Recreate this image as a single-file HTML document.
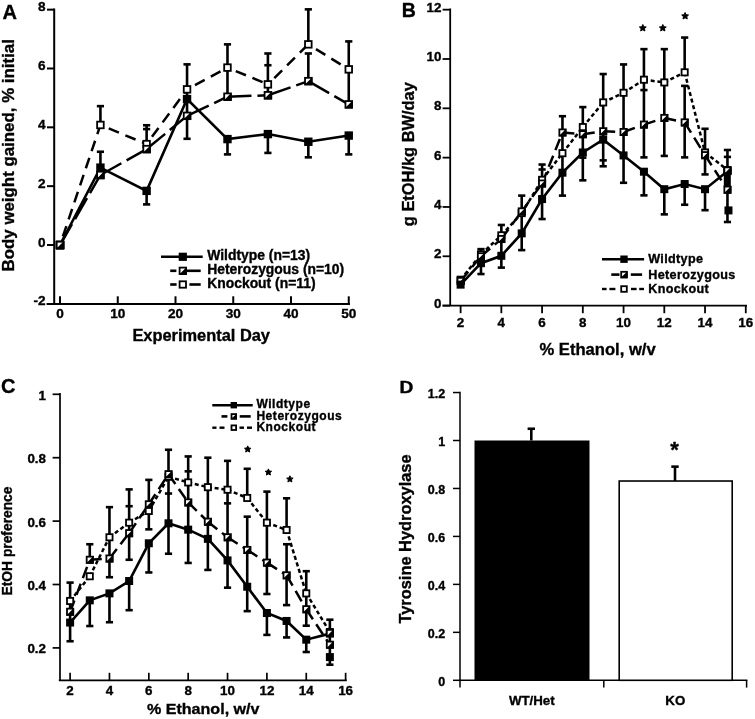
<!DOCTYPE html>
<html><head><meta charset="utf-8"><style>
html,body{margin:0;padding:0;background:#fff;}
svg{display:block;filter:grayscale(1);}
text{font-family:"Liberation Sans", sans-serif;font-weight:bold;fill:#000;stroke:#000;stroke-width:0.35px;}
</style></head><body>
<svg width="755" height="719" viewBox="0 0 755 719">
<rect width="755" height="719" fill="#fff"/>
<line x1="54.2" y1="8.5" x2="54.2" y2="303.9" stroke="#000" stroke-width="2.0" stroke-linecap="butt"/>
<line x1="46.6" y1="303.9" x2="350" y2="303.9" stroke="#000" stroke-width="2.0" stroke-linecap="butt"/>
<line x1="47" y1="9.64" x2="54.2" y2="9.64" stroke="#000" stroke-width="2.0" stroke-linecap="butt"/>
<text x="45.6" y="11.34" font-size="13.6" text-anchor="end" >8</text>
<line x1="47" y1="68.48" x2="54.2" y2="68.48" stroke="#000" stroke-width="2.0" stroke-linecap="butt"/>
<text x="45.6" y="70.18" font-size="13.6" text-anchor="end" >6</text>
<line x1="47" y1="127.32" x2="54.2" y2="127.32" stroke="#000" stroke-width="2.0" stroke-linecap="butt"/>
<text x="45.6" y="129.02" font-size="13.6" text-anchor="end" >4</text>
<line x1="47" y1="186.16" x2="54.2" y2="186.16" stroke="#000" stroke-width="2.0" stroke-linecap="butt"/>
<text x="45.6" y="187.86" font-size="13.6" text-anchor="end" >2</text>
<line x1="47" y1="245" x2="54.2" y2="245" stroke="#000" stroke-width="2.0" stroke-linecap="butt"/>
<text x="45.6" y="246.7" font-size="13.6" text-anchor="end" >0</text>
<text x="45.6" y="305.4" font-size="13.6" text-anchor="end" >-2</text>
<line x1="60" y1="303.9" x2="60" y2="296.3" stroke="#000" stroke-width="2.0" stroke-linecap="butt"/>
<text x="60" y="317.6" font-size="13.6" text-anchor="middle" >0</text>
<line x1="117.75" y1="303.9" x2="117.75" y2="296.3" stroke="#000" stroke-width="2.0" stroke-linecap="butt"/>
<text x="117.75" y="317.6" font-size="13.6" text-anchor="middle" >10</text>
<line x1="175.5" y1="303.9" x2="175.5" y2="296.3" stroke="#000" stroke-width="2.0" stroke-linecap="butt"/>
<text x="175.5" y="317.6" font-size="13.6" text-anchor="middle" >20</text>
<line x1="233.25" y1="303.9" x2="233.25" y2="296.3" stroke="#000" stroke-width="2.0" stroke-linecap="butt"/>
<text x="233.25" y="317.6" font-size="13.6" text-anchor="middle" >30</text>
<line x1="291" y1="303.9" x2="291" y2="296.3" stroke="#000" stroke-width="2.0" stroke-linecap="butt"/>
<text x="291" y="317.6" font-size="13.6" text-anchor="middle" >40</text>
<line x1="348.75" y1="303.9" x2="348.75" y2="296.3" stroke="#000" stroke-width="2.0" stroke-linecap="butt"/>
<text x="348.75" y="317.6" font-size="13.6" text-anchor="middle" >50</text>
<text x="201.2" y="340.6" font-size="16.4" text-anchor="middle" >Experimental Day</text>
<text transform="translate(14.2,155.3) rotate(-90)" x="0" y="0" font-size="16.88" text-anchor="middle">Body weight gained, % initial</text>
<text x="2.6" y="19.3" font-size="20" text-anchor="start" >A</text>
<line x1="100.43" y1="124.97" x2="100.43" y2="106.14" stroke="#000" stroke-width="2.6" stroke-linecap="butt"/>
<line x1="100.43" y1="174.98" x2="100.43" y2="151.74" stroke="#000" stroke-width="2.6" stroke-linecap="butt"/>
<line x1="96.83" y1="106.14" x2="104.03" y2="106.14" stroke="#000" stroke-width="2.6" stroke-linecap="butt"/>
<line x1="96.83" y1="151.74" x2="104.03" y2="151.74" stroke="#000" stroke-width="2.6" stroke-linecap="butt"/>
<line x1="146.62" y1="144.09" x2="146.62" y2="125.26" stroke="#000" stroke-width="2.6" stroke-linecap="butt"/>
<line x1="146.62" y1="204.4" x2="146.62" y2="190.87" stroke="#000" stroke-width="2.6" stroke-linecap="butt"/>
<line x1="143.03" y1="125.26" x2="150.22" y2="125.26" stroke="#000" stroke-width="2.6" stroke-linecap="butt"/>
<line x1="143.03" y1="129.09" x2="150.22" y2="129.09" stroke="#000" stroke-width="2.6" stroke-linecap="butt"/>
<line x1="143.03" y1="204.4" x2="150.22" y2="204.4" stroke="#000" stroke-width="2.6" stroke-linecap="butt"/>
<line x1="187.05" y1="138.79" x2="187.05" y2="64.36" stroke="#000" stroke-width="2.6" stroke-linecap="butt"/>
<line x1="183.45" y1="64.36" x2="190.65" y2="64.36" stroke="#000" stroke-width="2.6" stroke-linecap="butt"/>
<line x1="183.45" y1="138.79" x2="190.65" y2="138.79" stroke="#000" stroke-width="2.6" stroke-linecap="butt"/>
<line x1="227.48" y1="96.72" x2="227.48" y2="44.36" stroke="#000" stroke-width="2.6" stroke-linecap="butt"/>
<line x1="227.48" y1="154.39" x2="227.48" y2="139.09" stroke="#000" stroke-width="2.6" stroke-linecap="butt"/>
<line x1="223.88" y1="44.36" x2="231.08" y2="44.36" stroke="#000" stroke-width="2.6" stroke-linecap="butt"/>
<line x1="223.88" y1="154.39" x2="231.08" y2="154.39" stroke="#000" stroke-width="2.6" stroke-linecap="butt"/>
<line x1="267.9" y1="95.25" x2="267.9" y2="53.48" stroke="#000" stroke-width="2.6" stroke-linecap="butt"/>
<line x1="267.9" y1="152.92" x2="267.9" y2="134.09" stroke="#000" stroke-width="2.6" stroke-linecap="butt"/>
<line x1="264.3" y1="53.48" x2="271.5" y2="53.48" stroke="#000" stroke-width="2.6" stroke-linecap="butt"/>
<line x1="264.3" y1="65.24" x2="271.5" y2="65.24" stroke="#000" stroke-width="2.6" stroke-linecap="butt"/>
<line x1="264.3" y1="152.92" x2="271.5" y2="152.92" stroke="#000" stroke-width="2.6" stroke-linecap="butt"/>
<line x1="308.33" y1="44.36" x2="308.33" y2="9.35" stroke="#000" stroke-width="2.6" stroke-linecap="butt"/>
<line x1="308.33" y1="81.13" x2="308.33" y2="53.48" stroke="#000" stroke-width="2.6" stroke-linecap="butt"/>
<line x1="308.33" y1="157.33" x2="308.33" y2="141.74" stroke="#000" stroke-width="2.6" stroke-linecap="butt"/>
<line x1="304.73" y1="9.35" x2="311.93" y2="9.35" stroke="#000" stroke-width="2.6" stroke-linecap="butt"/>
<line x1="304.73" y1="53.48" x2="311.93" y2="53.48" stroke="#000" stroke-width="2.6" stroke-linecap="butt"/>
<line x1="304.73" y1="157.33" x2="311.93" y2="157.33" stroke="#000" stroke-width="2.6" stroke-linecap="butt"/>
<line x1="348.75" y1="104.37" x2="348.75" y2="41.41" stroke="#000" stroke-width="2.6" stroke-linecap="butt"/>
<line x1="348.75" y1="154.39" x2="348.75" y2="135.56" stroke="#000" stroke-width="2.6" stroke-linecap="butt"/>
<line x1="345.15" y1="41.41" x2="352.35" y2="41.41" stroke="#000" stroke-width="2.6" stroke-linecap="butt"/>
<line x1="345.15" y1="154.39" x2="352.35" y2="154.39" stroke="#000" stroke-width="2.6" stroke-linecap="butt"/>
<line x1="60" y1="245" x2="100.43" y2="124.97" stroke="#000" stroke-width="2.5" stroke-dasharray="11 7" stroke-dashoffset="9"/>
<line x1="100.43" y1="124.97" x2="146.62" y2="144.09" stroke="#000" stroke-width="2.5" stroke-dasharray="11 7" stroke-dashoffset="9"/>
<line x1="146.62" y1="144.09" x2="187.05" y2="89.37" stroke="#000" stroke-width="2.5" stroke-dasharray="11 7" stroke-dashoffset="9"/>
<line x1="187.05" y1="89.37" x2="227.48" y2="67.6" stroke="#000" stroke-width="2.5" stroke-dasharray="11 7" stroke-dashoffset="9"/>
<line x1="227.48" y1="67.6" x2="267.9" y2="84.37" stroke="#000" stroke-width="2.5" stroke-dasharray="11 7" stroke-dashoffset="9"/>
<line x1="267.9" y1="84.37" x2="308.33" y2="44.36" stroke="#000" stroke-width="2.5" stroke-dasharray="11 7" stroke-dashoffset="9"/>
<line x1="308.33" y1="44.36" x2="348.75" y2="69.36" stroke="#000" stroke-width="2.5" stroke-dasharray="11 7" stroke-dashoffset="9"/>
<line x1="60" y1="245" x2="100.43" y2="174.98" stroke="#000" stroke-width="2.5" stroke-dasharray="24 6" stroke-dashoffset="0"/>
<line x1="100.43" y1="174.98" x2="146.62" y2="149.09" stroke="#000" stroke-width="2.5" stroke-dasharray="24 6" stroke-dashoffset="0"/>
<line x1="146.62" y1="149.09" x2="187.05" y2="115.85" stroke="#000" stroke-width="2.5" stroke-dasharray="24 6" stroke-dashoffset="0"/>
<line x1="187.05" y1="115.85" x2="227.48" y2="96.72" stroke="#000" stroke-width="2.5" stroke-dasharray="24 6" stroke-dashoffset="0"/>
<line x1="227.48" y1="96.72" x2="267.9" y2="95.25" stroke="#000" stroke-width="2.5" stroke-dasharray="24 6" stroke-dashoffset="0"/>
<line x1="267.9" y1="95.25" x2="308.33" y2="81.13" stroke="#000" stroke-width="2.5" stroke-dasharray="24 6" stroke-dashoffset="0"/>
<line x1="308.33" y1="81.13" x2="348.75" y2="104.37" stroke="#000" stroke-width="2.5" stroke-dasharray="24 6" stroke-dashoffset="0"/>
<polyline points="60,245 100.43,167.63 146.62,190.87 187.05,99.08 227.48,139.09 267.9,134.09 308.33,141.74 348.75,135.56" fill="none" stroke="#000" stroke-width="2.6" stroke-linejoin="miter"/>
<rect x="56.7" y="241.7" width="6.6" height="6.6" fill="#fff" stroke="#000" stroke-width="1.8"/>
<rect x="97.13" y="121.67" width="6.6" height="6.6" fill="#fff" stroke="#000" stroke-width="1.8"/>
<rect x="143.32" y="140.79" width="6.6" height="6.6" fill="#fff" stroke="#000" stroke-width="1.8"/>
<rect x="183.75" y="86.07" width="6.6" height="6.6" fill="#fff" stroke="#000" stroke-width="1.8"/>
<rect x="224.18" y="64.3" width="6.6" height="6.6" fill="#fff" stroke="#000" stroke-width="1.8"/>
<rect x="264.6" y="81.07" width="6.6" height="6.6" fill="#fff" stroke="#000" stroke-width="1.8"/>
<rect x="305.03" y="41.06" width="6.6" height="6.6" fill="#fff" stroke="#000" stroke-width="1.8"/>
<rect x="345.45" y="66.06" width="6.6" height="6.6" fill="#fff" stroke="#000" stroke-width="1.8"/>
<rect x="56.7" y="241.7" width="6.6" height="6.6" fill="#fff" stroke="#000" stroke-width="1.8"/>
<path d="M55.8,249.2 L64.2,240.8 L64.2,249.2 Z" fill="#000"/>
<rect x="97.13" y="171.68" width="6.6" height="6.6" fill="#fff" stroke="#000" stroke-width="1.8"/>
<path d="M96.23,179.18 L104.63,170.78 L104.63,179.18 Z" fill="#000"/>
<rect x="143.32" y="145.79" width="6.6" height="6.6" fill="#fff" stroke="#000" stroke-width="1.8"/>
<path d="M142.43,153.29 L150.82,144.89 L150.82,153.29 Z" fill="#000"/>
<rect x="183.75" y="112.55" width="6.6" height="6.6" fill="#fff" stroke="#000" stroke-width="1.8"/>
<path d="M182.85,120.05 L191.25,111.65 L191.25,120.05 Z" fill="#000"/>
<rect x="224.18" y="93.42" width="6.6" height="6.6" fill="#fff" stroke="#000" stroke-width="1.8"/>
<path d="M223.28,100.92 L231.68,92.52 L231.68,100.92 Z" fill="#000"/>
<rect x="264.6" y="91.95" width="6.6" height="6.6" fill="#fff" stroke="#000" stroke-width="1.8"/>
<path d="M263.7,99.45 L272.1,91.05 L272.1,99.45 Z" fill="#000"/>
<rect x="305.03" y="77.83" width="6.6" height="6.6" fill="#fff" stroke="#000" stroke-width="1.8"/>
<path d="M304.13,85.33 L312.53,76.93 L312.53,85.33 Z" fill="#000"/>
<rect x="345.45" y="101.07" width="6.6" height="6.6" fill="#fff" stroke="#000" stroke-width="1.8"/>
<path d="M344.55,108.57 L352.95,100.17 L352.95,108.57 Z" fill="#000"/>
<rect x="55.8" y="240.8" width="8.4" height="8.4" fill="#000"/>
<rect x="96.23" y="163.43" width="8.4" height="8.4" fill="#000"/>
<rect x="142.43" y="186.67" width="8.4" height="8.4" fill="#000"/>
<rect x="182.85" y="94.88" width="8.4" height="8.4" fill="#000"/>
<rect x="223.28" y="134.89" width="8.4" height="8.4" fill="#000"/>
<rect x="263.7" y="129.89" width="8.4" height="8.4" fill="#000"/>
<rect x="304.13" y="137.54" width="8.4" height="8.4" fill="#000"/>
<rect x="344.55" y="131.36" width="8.4" height="8.4" fill="#000"/>
<rect x="56.7" y="241.7" width="6.6" height="6.6" fill="#fff" stroke="#000" stroke-width="1.8"/>
<path d="M55.8,249.2 L64.2,240.8 L64.2,249.2 Z" fill="#000"/>
<line x1="161" y1="256.8" x2="202.7" y2="256.8" stroke="#000" stroke-width="2.6" stroke-linecap="butt"/>
<rect x="178.7" y="252.7" width="8.2" height="8.2" fill="#000"/>
<line x1="170.2" y1="270.8" x2="176.4" y2="270.8" stroke="#000" stroke-width="2.6" stroke-linecap="butt"/>
<line x1="186.8" y1="270.8" x2="200.7" y2="270.8" stroke="#000" stroke-width="2.6" stroke-linecap="butt"/>
<rect x="179.6" y="267.6" width="6.4" height="6.4" fill="#fff" stroke="#000" stroke-width="1.8"/>
<path d="M178.7,274.9 L186.9,266.7 L186.9,274.9 Z" fill="#000"/>
<line x1="170.2" y1="284.5" x2="176.6" y2="284.5" stroke="#000" stroke-width="2.6" stroke-linecap="butt"/>
<line x1="189.4" y1="284.5" x2="200.7" y2="284.5" stroke="#000" stroke-width="2.6" stroke-linecap="butt"/>
<rect x="179.6" y="281.3" width="6.4" height="6.4" fill="#fff" stroke="#000" stroke-width="1.8"/>
<text x="207.2" y="260.2" font-size="13.9" text-anchor="start" >Wildtype (n=13)</text>
<text x="207.2" y="274.3" font-size="13.9" text-anchor="start" >Heterozygous (n=10)</text>
<text x="207.2" y="288.2" font-size="13.9" text-anchor="start" >Knockout (n=11)</text>
<line x1="450.2" y1="8.5" x2="450.2" y2="305.6" stroke="#000" stroke-width="1.8" stroke-linecap="butt"/>
<line x1="442.6" y1="305.6" x2="747" y2="305.6" stroke="#000" stroke-width="1.8" stroke-linecap="butt"/>
<line x1="442.6" y1="9.68" x2="450.2" y2="9.68" stroke="#000" stroke-width="1.8" stroke-linecap="butt"/>
<text x="441.5" y="11.68" font-size="13.4" text-anchor="end" >12</text>
<line x1="442.6" y1="59" x2="450.2" y2="59" stroke="#000" stroke-width="1.8" stroke-linecap="butt"/>
<text x="441.5" y="61" font-size="13.4" text-anchor="end" >10</text>
<line x1="442.6" y1="108.32" x2="450.2" y2="108.32" stroke="#000" stroke-width="1.8" stroke-linecap="butt"/>
<text x="441.5" y="110.32" font-size="13.4" text-anchor="end" >8</text>
<line x1="442.6" y1="157.64" x2="450.2" y2="157.64" stroke="#000" stroke-width="1.8" stroke-linecap="butt"/>
<text x="441.5" y="159.64" font-size="13.4" text-anchor="end" >6</text>
<line x1="442.6" y1="206.96" x2="450.2" y2="206.96" stroke="#000" stroke-width="1.8" stroke-linecap="butt"/>
<text x="441.5" y="208.96" font-size="13.4" text-anchor="end" >4</text>
<line x1="442.6" y1="256.28" x2="450.2" y2="256.28" stroke="#000" stroke-width="1.8" stroke-linecap="butt"/>
<text x="441.5" y="258.28" font-size="13.4" text-anchor="end" >2</text>
<line x1="442.6" y1="305.6" x2="450.2" y2="305.6" stroke="#000" stroke-width="1.8" stroke-linecap="butt"/>
<text x="441.5" y="307.6" font-size="13.4" text-anchor="end" >0</text>
<line x1="460.6" y1="305.6" x2="460.6" y2="313.2" stroke="#000" stroke-width="1.8" stroke-linecap="butt"/>
<text x="460.6" y="327" font-size="13.4" text-anchor="middle" >2</text>
<line x1="501.34" y1="305.6" x2="501.34" y2="313.2" stroke="#000" stroke-width="1.8" stroke-linecap="butt"/>
<text x="501.34" y="327" font-size="13.4" text-anchor="middle" >4</text>
<line x1="542.08" y1="305.6" x2="542.08" y2="313.2" stroke="#000" stroke-width="1.8" stroke-linecap="butt"/>
<text x="542.08" y="327" font-size="13.4" text-anchor="middle" >6</text>
<line x1="582.82" y1="305.6" x2="582.82" y2="313.2" stroke="#000" stroke-width="1.8" stroke-linecap="butt"/>
<text x="582.82" y="327" font-size="13.4" text-anchor="middle" >8</text>
<line x1="623.56" y1="305.6" x2="623.56" y2="313.2" stroke="#000" stroke-width="1.8" stroke-linecap="butt"/>
<text x="623.56" y="327" font-size="13.4" text-anchor="middle" >10</text>
<line x1="664.3" y1="305.6" x2="664.3" y2="313.2" stroke="#000" stroke-width="1.8" stroke-linecap="butt"/>
<text x="664.3" y="327" font-size="13.4" text-anchor="middle" >12</text>
<line x1="705.04" y1="305.6" x2="705.04" y2="313.2" stroke="#000" stroke-width="1.8" stroke-linecap="butt"/>
<text x="705.04" y="327" font-size="13.4" text-anchor="middle" >14</text>
<line x1="745.78" y1="305.6" x2="745.78" y2="313.2" stroke="#000" stroke-width="1.8" stroke-linecap="butt"/>
<text x="745.78" y="327" font-size="13.4" text-anchor="middle" >16</text>
<text x="597.6" y="354.6" font-size="16.6" text-anchor="middle" >% Ethanol, w/v</text>
<text transform="translate(414.4,154.2) rotate(-90)" x="0" y="0" font-size="16.4" text-anchor="middle">g EtOH/kg BW/day</text>
<text x="401.8" y="17" font-size="19.5" text-anchor="start" >B</text>
<line x1="480.97" y1="274.04" x2="480.97" y2="249.13" stroke="#000" stroke-width="2.6" stroke-linecap="butt"/>
<line x1="477.37" y1="249.13" x2="484.57" y2="249.13" stroke="#000" stroke-width="2.6" stroke-linecap="butt"/>
<line x1="477.37" y1="274.04" x2="484.57" y2="274.04" stroke="#000" stroke-width="2.6" stroke-linecap="butt"/>
<line x1="501.34" y1="267.62" x2="501.34" y2="224.96" stroke="#000" stroke-width="2.6" stroke-linecap="butt"/>
<line x1="497.74" y1="224.96" x2="504.94" y2="224.96" stroke="#000" stroke-width="2.6" stroke-linecap="butt"/>
<line x1="497.74" y1="267.62" x2="504.94" y2="267.62" stroke="#000" stroke-width="2.6" stroke-linecap="butt"/>
<line x1="521.71" y1="250.12" x2="521.71" y2="195.62" stroke="#000" stroke-width="2.6" stroke-linecap="butt"/>
<line x1="518.11" y1="195.62" x2="525.31" y2="195.62" stroke="#000" stroke-width="2.6" stroke-linecap="butt"/>
<line x1="518.11" y1="250.12" x2="525.31" y2="250.12" stroke="#000" stroke-width="2.6" stroke-linecap="butt"/>
<line x1="542.08" y1="219.04" x2="542.08" y2="164.54" stroke="#000" stroke-width="2.6" stroke-linecap="butt"/>
<line x1="538.48" y1="164.54" x2="545.68" y2="164.54" stroke="#000" stroke-width="2.6" stroke-linecap="butt"/>
<line x1="538.48" y1="169.48" x2="545.68" y2="169.48" stroke="#000" stroke-width="2.6" stroke-linecap="butt"/>
<line x1="538.48" y1="219.04" x2="545.68" y2="219.04" stroke="#000" stroke-width="2.6" stroke-linecap="butt"/>
<line x1="562.45" y1="195.62" x2="562.45" y2="116.21" stroke="#000" stroke-width="2.6" stroke-linecap="butt"/>
<line x1="558.85" y1="116.21" x2="566.05" y2="116.21" stroke="#000" stroke-width="2.6" stroke-linecap="butt"/>
<line x1="558.85" y1="195.62" x2="566.05" y2="195.62" stroke="#000" stroke-width="2.6" stroke-linecap="butt"/>
<line x1="582.82" y1="180.33" x2="582.82" y2="107.09" stroke="#000" stroke-width="2.6" stroke-linecap="butt"/>
<line x1="579.22" y1="107.09" x2="586.42" y2="107.09" stroke="#000" stroke-width="2.6" stroke-linecap="butt"/>
<line x1="579.22" y1="157.64" x2="586.42" y2="157.64" stroke="#000" stroke-width="2.6" stroke-linecap="butt"/>
<line x1="579.22" y1="180.33" x2="586.42" y2="180.33" stroke="#000" stroke-width="2.6" stroke-linecap="butt"/>
<line x1="603.19" y1="166.27" x2="603.19" y2="74.04" stroke="#000" stroke-width="2.6" stroke-linecap="butt"/>
<line x1="599.59" y1="74.04" x2="606.79" y2="74.04" stroke="#000" stroke-width="2.6" stroke-linecap="butt"/>
<line x1="599.59" y1="160.35" x2="606.79" y2="160.35" stroke="#000" stroke-width="2.6" stroke-linecap="butt"/>
<line x1="599.59" y1="166.27" x2="606.79" y2="166.27" stroke="#000" stroke-width="2.6" stroke-linecap="butt"/>
<line x1="623.56" y1="182.79" x2="623.56" y2="64.43" stroke="#000" stroke-width="2.6" stroke-linecap="butt"/>
<line x1="619.96" y1="64.43" x2="627.16" y2="64.43" stroke="#000" stroke-width="2.6" stroke-linecap="butt"/>
<line x1="619.96" y1="182.79" x2="627.16" y2="182.79" stroke="#000" stroke-width="2.6" stroke-linecap="butt"/>
<line x1="643.93" y1="157.39" x2="643.93" y2="49.14" stroke="#000" stroke-width="2.6" stroke-linecap="butt"/>
<line x1="643.93" y1="195.37" x2="643.93" y2="171.94" stroke="#000" stroke-width="2.6" stroke-linecap="butt"/>
<line x1="640.33" y1="49.14" x2="647.53" y2="49.14" stroke="#000" stroke-width="2.6" stroke-linecap="butt"/>
<line x1="640.33" y1="90.07" x2="647.53" y2="90.07" stroke="#000" stroke-width="2.6" stroke-linecap="butt"/>
<line x1="640.33" y1="157.39" x2="647.53" y2="157.39" stroke="#000" stroke-width="2.6" stroke-linecap="butt"/>
<line x1="640.33" y1="195.37" x2="647.53" y2="195.37" stroke="#000" stroke-width="2.6" stroke-linecap="butt"/>
<line x1="664.3" y1="155.91" x2="664.3" y2="49.14" stroke="#000" stroke-width="2.6" stroke-linecap="butt"/>
<line x1="664.3" y1="214.36" x2="664.3" y2="189.7" stroke="#000" stroke-width="2.6" stroke-linecap="butt"/>
<line x1="660.7" y1="49.14" x2="667.9" y2="49.14" stroke="#000" stroke-width="2.6" stroke-linecap="butt"/>
<line x1="660.7" y1="155.91" x2="667.9" y2="155.91" stroke="#000" stroke-width="2.6" stroke-linecap="butt"/>
<line x1="660.7" y1="214.36" x2="667.9" y2="214.36" stroke="#000" stroke-width="2.6" stroke-linecap="butt"/>
<line x1="684.67" y1="72.07" x2="684.67" y2="37.55" stroke="#000" stroke-width="2.6" stroke-linecap="butt"/>
<line x1="684.67" y1="157.39" x2="684.67" y2="85.88" stroke="#000" stroke-width="2.6" stroke-linecap="butt"/>
<line x1="684.67" y1="204.74" x2="684.67" y2="183.29" stroke="#000" stroke-width="2.6" stroke-linecap="butt"/>
<line x1="681.07" y1="37.55" x2="688.27" y2="37.55" stroke="#000" stroke-width="2.6" stroke-linecap="butt"/>
<line x1="681.07" y1="85.88" x2="688.27" y2="85.88" stroke="#000" stroke-width="2.6" stroke-linecap="butt"/>
<line x1="681.07" y1="157.39" x2="688.27" y2="157.39" stroke="#000" stroke-width="2.6" stroke-linecap="butt"/>
<line x1="681.07" y1="204.74" x2="688.27" y2="204.74" stroke="#000" stroke-width="2.6" stroke-linecap="butt"/>
<line x1="705.04" y1="174.41" x2="705.04" y2="128.79" stroke="#000" stroke-width="2.6" stroke-linecap="butt"/>
<line x1="705.04" y1="210.17" x2="705.04" y2="189.45" stroke="#000" stroke-width="2.6" stroke-linecap="butt"/>
<line x1="701.44" y1="128.79" x2="708.64" y2="128.79" stroke="#000" stroke-width="2.6" stroke-linecap="butt"/>
<line x1="701.44" y1="174.41" x2="708.64" y2="174.41" stroke="#000" stroke-width="2.6" stroke-linecap="butt"/>
<line x1="701.44" y1="210.17" x2="708.64" y2="210.17" stroke="#000" stroke-width="2.6" stroke-linecap="butt"/>
<line x1="727.45" y1="222" x2="727.45" y2="150" stroke="#000" stroke-width="2.6" stroke-linecap="butt"/>
<line x1="723.85" y1="150" x2="731.05" y2="150" stroke="#000" stroke-width="2.6" stroke-linecap="butt"/>
<line x1="723.85" y1="156.9" x2="731.05" y2="156.9" stroke="#000" stroke-width="2.6" stroke-linecap="butt"/>
<line x1="723.85" y1="222" x2="731.05" y2="222" stroke="#000" stroke-width="2.6" stroke-linecap="butt"/>
<line x1="460.6" y1="279.71" x2="480.97" y2="254.31" stroke="#000" stroke-width="2.5" stroke-dasharray="4 2.8" stroke-dashoffset="0"/>
<line x1="480.97" y1="254.31" x2="501.34" y2="235.32" stroke="#000" stroke-width="2.5" stroke-dasharray="4 2.8" stroke-dashoffset="0"/>
<line x1="501.34" y1="235.32" x2="521.71" y2="213.13" stroke="#000" stroke-width="2.5" stroke-dasharray="4 2.8" stroke-dashoffset="0"/>
<line x1="521.71" y1="213.13" x2="542.08" y2="179.83" stroke="#000" stroke-width="2.5" stroke-dasharray="4 2.8" stroke-dashoffset="0"/>
<line x1="542.08" y1="179.83" x2="562.45" y2="153.2" stroke="#000" stroke-width="2.5" stroke-dasharray="4 2.8" stroke-dashoffset="0"/>
<line x1="562.45" y1="153.2" x2="582.82" y2="127.06" stroke="#000" stroke-width="2.5" stroke-dasharray="4 2.8" stroke-dashoffset="0"/>
<line x1="582.82" y1="127.06" x2="603.19" y2="102.4" stroke="#000" stroke-width="2.5" stroke-dasharray="4 2.8" stroke-dashoffset="0"/>
<line x1="603.19" y1="102.4" x2="623.56" y2="92.78" stroke="#000" stroke-width="2.5" stroke-dasharray="4 2.8" stroke-dashoffset="0"/>
<line x1="623.56" y1="92.78" x2="643.93" y2="79.71" stroke="#000" stroke-width="2.5" stroke-dasharray="4 2.8" stroke-dashoffset="0"/>
<line x1="643.93" y1="79.71" x2="664.3" y2="82.43" stroke="#000" stroke-width="2.5" stroke-dasharray="4 2.8" stroke-dashoffset="0"/>
<line x1="664.3" y1="82.43" x2="684.67" y2="72.32" stroke="#000" stroke-width="2.5" stroke-dasharray="4 2.8" stroke-dashoffset="0"/>
<line x1="684.67" y1="72.32" x2="705.04" y2="152.46" stroke="#000" stroke-width="2.5" stroke-dasharray="4 2.8" stroke-dashoffset="0"/>
<line x1="705.04" y1="152.46" x2="727.45" y2="169.97" stroke="#000" stroke-width="2.5" stroke-dasharray="4 2.8" stroke-dashoffset="0"/>
<line x1="460.6" y1="280.94" x2="480.97" y2="256.28" stroke="#000" stroke-width="2.5" stroke-dasharray="12 6" stroke-dashoffset="0"/>
<line x1="480.97" y1="256.28" x2="501.34" y2="239.02" stroke="#000" stroke-width="2.5" stroke-dasharray="12 6" stroke-dashoffset="0"/>
<line x1="501.34" y1="239.02" x2="521.71" y2="211.4" stroke="#000" stroke-width="2.5" stroke-dasharray="12 6" stroke-dashoffset="0"/>
<line x1="521.71" y1="211.4" x2="542.08" y2="183.53" stroke="#000" stroke-width="2.5" stroke-dasharray="12 6" stroke-dashoffset="0"/>
<line x1="542.08" y1="183.53" x2="562.45" y2="132.49" stroke="#000" stroke-width="2.5" stroke-dasharray="12 6" stroke-dashoffset="0"/>
<line x1="562.45" y1="132.49" x2="582.82" y2="134.21" stroke="#000" stroke-width="2.5" stroke-dasharray="12 6" stroke-dashoffset="0"/>
<line x1="582.82" y1="134.21" x2="603.19" y2="131.25" stroke="#000" stroke-width="2.5" stroke-dasharray="12 6" stroke-dashoffset="0"/>
<line x1="603.19" y1="131.25" x2="623.56" y2="131.99" stroke="#000" stroke-width="2.5" stroke-dasharray="12 6" stroke-dashoffset="0"/>
<line x1="623.56" y1="131.99" x2="643.93" y2="124.6" stroke="#000" stroke-width="2.5" stroke-dasharray="12 6" stroke-dashoffset="0"/>
<line x1="643.93" y1="124.6" x2="664.3" y2="117.94" stroke="#000" stroke-width="2.5" stroke-dasharray="12 6" stroke-dashoffset="0"/>
<line x1="664.3" y1="117.94" x2="684.67" y2="122.38" stroke="#000" stroke-width="2.5" stroke-dasharray="12 6" stroke-dashoffset="0"/>
<line x1="684.67" y1="122.38" x2="705.04" y2="155.17" stroke="#000" stroke-width="2.5" stroke-dasharray="12 6" stroke-dashoffset="0"/>
<line x1="705.04" y1="155.17" x2="727.45" y2="189.7" stroke="#000" stroke-width="2.5" stroke-dasharray="12 6" stroke-dashoffset="0"/>
<polyline points="460.6,284.64 480.97,263.18 501.34,255.79 521.71,233.35 542.08,199.07 562.45,172.68 582.82,152.46 603.19,139.64 623.56,155.42 643.93,171.7 664.3,189.2 684.67,184.03 705.04,189.2 727.45,171.2" fill="none" stroke="#000" stroke-width="2.6" stroke-linejoin="miter"/>
<rect x="457.5" y="276.61" width="6.2" height="6.2" fill="#fff" stroke="#000" stroke-width="1.8"/>
<rect x="477.87" y="251.21" width="6.2" height="6.2" fill="#fff" stroke="#000" stroke-width="1.8"/>
<rect x="498.24" y="232.22" width="6.2" height="6.2" fill="#fff" stroke="#000" stroke-width="1.8"/>
<rect x="518.61" y="210.03" width="6.2" height="6.2" fill="#fff" stroke="#000" stroke-width="1.8"/>
<rect x="538.98" y="176.73" width="6.2" height="6.2" fill="#fff" stroke="#000" stroke-width="1.8"/>
<rect x="559.35" y="150.1" width="6.2" height="6.2" fill="#fff" stroke="#000" stroke-width="1.8"/>
<rect x="579.72" y="123.96" width="6.2" height="6.2" fill="#fff" stroke="#000" stroke-width="1.8"/>
<rect x="600.09" y="99.3" width="6.2" height="6.2" fill="#fff" stroke="#000" stroke-width="1.8"/>
<rect x="620.46" y="89.68" width="6.2" height="6.2" fill="#fff" stroke="#000" stroke-width="1.8"/>
<rect x="640.83" y="76.61" width="6.2" height="6.2" fill="#fff" stroke="#000" stroke-width="1.8"/>
<rect x="661.2" y="79.33" width="6.2" height="6.2" fill="#fff" stroke="#000" stroke-width="1.8"/>
<rect x="681.57" y="69.22" width="6.2" height="6.2" fill="#fff" stroke="#000" stroke-width="1.8"/>
<rect x="701.94" y="149.36" width="6.2" height="6.2" fill="#fff" stroke="#000" stroke-width="1.8"/>
<rect x="724.35" y="166.87" width="6.2" height="6.2" fill="#fff" stroke="#000" stroke-width="1.8"/>
<rect x="457.5" y="277.84" width="6.2" height="6.2" fill="#fff" stroke="#000" stroke-width="1.8"/>
<path d="M456.6,284.94 L464.6,276.94 L464.6,284.94 Z" fill="#000"/>
<rect x="477.87" y="253.18" width="6.2" height="6.2" fill="#fff" stroke="#000" stroke-width="1.8"/>
<path d="M476.97,260.28 L484.97,252.28 L484.97,260.28 Z" fill="#000"/>
<rect x="498.24" y="235.92" width="6.2" height="6.2" fill="#fff" stroke="#000" stroke-width="1.8"/>
<path d="M497.34,243.02 L505.34,235.02 L505.34,243.02 Z" fill="#000"/>
<rect x="518.61" y="208.3" width="6.2" height="6.2" fill="#fff" stroke="#000" stroke-width="1.8"/>
<path d="M517.71,215.4 L525.71,207.4 L525.71,215.4 Z" fill="#000"/>
<rect x="538.98" y="180.43" width="6.2" height="6.2" fill="#fff" stroke="#000" stroke-width="1.8"/>
<path d="M538.08,187.53 L546.08,179.53 L546.08,187.53 Z" fill="#000"/>
<rect x="559.35" y="129.39" width="6.2" height="6.2" fill="#fff" stroke="#000" stroke-width="1.8"/>
<path d="M558.45,136.49 L566.45,128.49 L566.45,136.49 Z" fill="#000"/>
<rect x="579.72" y="131.11" width="6.2" height="6.2" fill="#fff" stroke="#000" stroke-width="1.8"/>
<path d="M578.82,138.21 L586.82,130.21 L586.82,138.21 Z" fill="#000"/>
<rect x="600.09" y="128.15" width="6.2" height="6.2" fill="#fff" stroke="#000" stroke-width="1.8"/>
<path d="M599.19,135.25 L607.19,127.25 L607.19,135.25 Z" fill="#000"/>
<rect x="620.46" y="128.89" width="6.2" height="6.2" fill="#fff" stroke="#000" stroke-width="1.8"/>
<path d="M619.56,135.99 L627.56,127.99 L627.56,135.99 Z" fill="#000"/>
<rect x="640.83" y="121.5" width="6.2" height="6.2" fill="#fff" stroke="#000" stroke-width="1.8"/>
<path d="M639.93,128.6 L647.93,120.6 L647.93,128.6 Z" fill="#000"/>
<rect x="661.2" y="114.84" width="6.2" height="6.2" fill="#fff" stroke="#000" stroke-width="1.8"/>
<path d="M660.3,121.94 L668.3,113.94 L668.3,121.94 Z" fill="#000"/>
<rect x="681.57" y="119.28" width="6.2" height="6.2" fill="#fff" stroke="#000" stroke-width="1.8"/>
<path d="M680.67,126.38 L688.67,118.38 L688.67,126.38 Z" fill="#000"/>
<rect x="701.94" y="152.07" width="6.2" height="6.2" fill="#fff" stroke="#000" stroke-width="1.8"/>
<path d="M701.04,159.17 L709.04,151.17 L709.04,159.17 Z" fill="#000"/>
<rect x="724.35" y="186.6" width="6.2" height="6.2" fill="#fff" stroke="#000" stroke-width="1.8"/>
<path d="M723.45,193.7 L731.45,185.7 L731.45,193.7 Z" fill="#000"/>
<rect x="456.6" y="280.64" width="8" height="8" fill="#000"/>
<rect x="476.97" y="259.18" width="8" height="8" fill="#000"/>
<rect x="497.34" y="251.79" width="8" height="8" fill="#000"/>
<rect x="517.71" y="229.35" width="8" height="8" fill="#000"/>
<rect x="538.08" y="195.07" width="8" height="8" fill="#000"/>
<rect x="558.45" y="168.68" width="8" height="8" fill="#000"/>
<rect x="578.82" y="148.46" width="8" height="8" fill="#000"/>
<rect x="599.19" y="135.64" width="8" height="8" fill="#000"/>
<rect x="619.56" y="151.42" width="8" height="8" fill="#000"/>
<rect x="639.93" y="167.7" width="8" height="8" fill="#000"/>
<rect x="660.3" y="185.2" width="8" height="8" fill="#000"/>
<rect x="680.67" y="180.03" width="8" height="8" fill="#000"/>
<rect x="701.04" y="185.2" width="8" height="8" fill="#000"/>
<rect x="723.45" y="167.2" width="8" height="8" fill="#000"/>
<rect x="724.47" y="206.41" width="8" height="8" fill="#000"/>
<rect x="724.35" y="167.36" width="6.2" height="6.2" fill="#fff" stroke="#000" stroke-width="1.8"/>
<path d="M723.45,174.46 L731.45,166.46 L731.45,174.46 Z" fill="#000"/>
<rect x="723.8" y="172.5" width="7" height="14" fill="#000"/>
<polygon points="642.8,24.5 643.8,26.72 646.22,26.99 644.42,28.63 644.92,31.01 642.8,29.8 640.68,31.01 641.18,28.63 639.38,26.99 641.8,26.72" fill="#000" stroke="#000" stroke-width="1" stroke-linejoin="round"/>
<polygon points="662.8,24.5 663.8,26.72 666.22,26.99 664.42,28.63 664.92,31.01 662.8,29.8 660.68,31.01 661.18,28.63 659.38,26.99 661.8,26.72" fill="#000" stroke="#000" stroke-width="1" stroke-linejoin="round"/>
<polygon points="685.1,12.5 686.1,14.72 688.52,14.99 686.72,16.63 687.22,19.01 685.1,17.8 682.98,19.01 683.48,16.63 681.68,14.99 684.1,14.72" fill="#000" stroke="#000" stroke-width="1" stroke-linejoin="round"/>
<line x1="602" y1="259.2" x2="644.1" y2="259.2" stroke="#000" stroke-width="2.6" stroke-linecap="butt"/>
<rect x="620.3" y="255.5" width="7.4" height="7.4" fill="#000"/>
<line x1="611.3" y1="274.6" x2="619.5" y2="274.6" stroke="#000" stroke-width="2.6" stroke-linecap="butt"/>
<line x1="630.8" y1="274.6" x2="642.1" y2="274.6" stroke="#000" stroke-width="2.6" stroke-linecap="butt"/>
<rect x="621.2" y="271.8" width="5.6" height="5.6" fill="#fff" stroke="#000" stroke-width="1.8"/>
<path d="M620.3,278.3 L627.7,270.9 L627.7,278.3 Z" fill="#000"/>
<line x1="602" y1="289" x2="606.6" y2="289" stroke="#000" stroke-width="2.4" stroke-linecap="butt"/>
<line x1="609.4" y1="289" x2="615.4" y2="289" stroke="#000" stroke-width="2.4" stroke-linecap="butt"/>
<line x1="631" y1="289" x2="636.6" y2="289" stroke="#000" stroke-width="2.4" stroke-linecap="butt"/>
<line x1="639.2" y1="289" x2="644" y2="289" stroke="#000" stroke-width="2.4" stroke-linecap="butt"/>
<rect x="621.2" y="286.2" width="5.6" height="5.6" fill="#fff" stroke="#000" stroke-width="1.8"/>
<text x="648.2" y="263.4" font-size="12.6" text-anchor="start" letter-spacing="0.35">Wildtype</text>
<text x="648.2" y="278.8" font-size="12.6" text-anchor="start" letter-spacing="0.35">Heterozygous</text>
<text x="648.2" y="293.2" font-size="12.6" text-anchor="start" letter-spacing="0.35">Knockout</text>
<line x1="60" y1="393.1" x2="60" y2="680.3" stroke="#000" stroke-width="1.7" stroke-linecap="butt"/>
<line x1="58.8" y1="680.3" x2="346.8" y2="680.3" stroke="#000" stroke-width="1.7" stroke-linecap="butt"/>
<line x1="52.6" y1="394.3" x2="60" y2="394.3" stroke="#000" stroke-width="1.7" stroke-linecap="butt"/>
<text x="46" y="399.7" font-size="13.4" text-anchor="end" >1</text>
<line x1="52.6" y1="457.7" x2="60" y2="457.7" stroke="#000" stroke-width="1.7" stroke-linecap="butt"/>
<text x="46" y="463.1" font-size="13.4" text-anchor="end" >0.8</text>
<line x1="52.6" y1="521.1" x2="60" y2="521.1" stroke="#000" stroke-width="1.7" stroke-linecap="butt"/>
<text x="46" y="526.5" font-size="13.4" text-anchor="end" >0.6</text>
<line x1="52.6" y1="584.5" x2="60" y2="584.5" stroke="#000" stroke-width="1.7" stroke-linecap="butt"/>
<text x="46" y="589.9" font-size="13.4" text-anchor="end" >0.4</text>
<line x1="52.6" y1="647.9" x2="60" y2="647.9" stroke="#000" stroke-width="1.7" stroke-linecap="butt"/>
<text x="46" y="653.3" font-size="13.4" text-anchor="end" >0.2</text>
<line x1="70.1" y1="680.3" x2="70.1" y2="672.8" stroke="#000" stroke-width="1.7" stroke-linecap="butt"/>
<text x="70.1" y="694.7" font-size="13.4" text-anchor="middle" >2</text>
<line x1="109.46" y1="680.3" x2="109.46" y2="672.8" stroke="#000" stroke-width="1.7" stroke-linecap="butt"/>
<text x="109.46" y="694.7" font-size="13.4" text-anchor="middle" >4</text>
<line x1="148.82" y1="680.3" x2="148.82" y2="672.8" stroke="#000" stroke-width="1.7" stroke-linecap="butt"/>
<text x="148.82" y="694.7" font-size="13.4" text-anchor="middle" >6</text>
<line x1="188.18" y1="680.3" x2="188.18" y2="672.8" stroke="#000" stroke-width="1.7" stroke-linecap="butt"/>
<text x="188.18" y="694.7" font-size="13.4" text-anchor="middle" >8</text>
<line x1="227.54" y1="680.3" x2="227.54" y2="672.8" stroke="#000" stroke-width="1.7" stroke-linecap="butt"/>
<text x="227.54" y="694.7" font-size="13.4" text-anchor="middle" >10</text>
<line x1="266.9" y1="680.3" x2="266.9" y2="672.8" stroke="#000" stroke-width="1.7" stroke-linecap="butt"/>
<text x="266.9" y="694.7" font-size="13.4" text-anchor="middle" >12</text>
<line x1="306.26" y1="680.3" x2="306.26" y2="672.8" stroke="#000" stroke-width="1.7" stroke-linecap="butt"/>
<text x="306.26" y="694.7" font-size="13.4" text-anchor="middle" >14</text>
<line x1="345.62" y1="680.3" x2="345.62" y2="672.8" stroke="#000" stroke-width="1.7" stroke-linecap="butt"/>
<text x="345.62" y="694.7" font-size="13.4" text-anchor="middle" >16</text>
<text x="203.2" y="714.3" font-size="16.1" text-anchor="middle" transform="translate(0,714.3) scale(1,0.86) translate(0,-714.3)">% Ethanol, w/v</text>
<text transform="translate(11.9,541) rotate(-90)" x="0" y="0" font-size="13.8" text-anchor="middle">EtOH preference</text>
<text x="1" y="393" font-size="20" text-anchor="start" >C</text>
<line x1="70.1" y1="641.24" x2="70.1" y2="582.6" stroke="#000" stroke-width="2.6" stroke-linecap="butt"/>
<line x1="66.5" y1="582.6" x2="73.7" y2="582.6" stroke="#000" stroke-width="2.6" stroke-linecap="butt"/>
<line x1="66.5" y1="641.24" x2="73.7" y2="641.24" stroke="#000" stroke-width="2.6" stroke-linecap="butt"/>
<line x1="89.78" y1="559.77" x2="89.78" y2="544.24" stroke="#000" stroke-width="2.6" stroke-linecap="butt"/>
<line x1="89.78" y1="626.03" x2="89.78" y2="600.35" stroke="#000" stroke-width="2.6" stroke-linecap="butt"/>
<line x1="86.18" y1="544.24" x2="93.38" y2="544.24" stroke="#000" stroke-width="2.6" stroke-linecap="butt"/>
<line x1="86.18" y1="626.03" x2="93.38" y2="626.03" stroke="#000" stroke-width="2.6" stroke-linecap="butt"/>
<line x1="109.46" y1="577.21" x2="109.46" y2="507.15" stroke="#000" stroke-width="2.6" stroke-linecap="butt"/>
<line x1="109.46" y1="622.22" x2="109.46" y2="593.38" stroke="#000" stroke-width="2.6" stroke-linecap="butt"/>
<line x1="105.86" y1="507.15" x2="113.06" y2="507.15" stroke="#000" stroke-width="2.6" stroke-linecap="butt"/>
<line x1="105.86" y1="577.21" x2="113.06" y2="577.21" stroke="#000" stroke-width="2.6" stroke-linecap="butt"/>
<line x1="105.86" y1="622.22" x2="113.06" y2="622.22" stroke="#000" stroke-width="2.6" stroke-linecap="butt"/>
<line x1="129.14" y1="559.77" x2="129.14" y2="489.4" stroke="#000" stroke-width="2.6" stroke-linecap="butt"/>
<line x1="129.14" y1="610.18" x2="129.14" y2="581.01" stroke="#000" stroke-width="2.6" stroke-linecap="butt"/>
<line x1="125.54" y1="489.4" x2="132.74" y2="489.4" stroke="#000" stroke-width="2.6" stroke-linecap="butt"/>
<line x1="125.54" y1="506.2" x2="132.74" y2="506.2" stroke="#000" stroke-width="2.6" stroke-linecap="butt"/>
<line x1="125.54" y1="559.77" x2="132.74" y2="559.77" stroke="#000" stroke-width="2.6" stroke-linecap="butt"/>
<line x1="125.54" y1="610.18" x2="132.74" y2="610.18" stroke="#000" stroke-width="2.6" stroke-linecap="butt"/>
<line x1="148.82" y1="529.34" x2="148.82" y2="479.89" stroke="#000" stroke-width="2.6" stroke-linecap="butt"/>
<line x1="148.82" y1="572.45" x2="148.82" y2="543.29" stroke="#000" stroke-width="2.6" stroke-linecap="butt"/>
<line x1="145.22" y1="479.89" x2="152.42" y2="479.89" stroke="#000" stroke-width="2.6" stroke-linecap="butt"/>
<line x1="145.22" y1="529.34" x2="152.42" y2="529.34" stroke="#000" stroke-width="2.6" stroke-linecap="butt"/>
<line x1="145.22" y1="572.45" x2="152.42" y2="572.45" stroke="#000" stroke-width="2.6" stroke-linecap="butt"/>
<line x1="168.5" y1="553.75" x2="168.5" y2="449.77" stroke="#000" stroke-width="2.6" stroke-linecap="butt"/>
<line x1="164.9" y1="449.77" x2="172.1" y2="449.77" stroke="#000" stroke-width="2.6" stroke-linecap="butt"/>
<line x1="164.9" y1="493.52" x2="172.1" y2="493.52" stroke="#000" stroke-width="2.6" stroke-linecap="butt"/>
<line x1="164.9" y1="553.75" x2="172.1" y2="553.75" stroke="#000" stroke-width="2.6" stroke-linecap="butt"/>
<line x1="188.18" y1="562.94" x2="188.18" y2="456.43" stroke="#000" stroke-width="2.6" stroke-linecap="butt"/>
<line x1="184.58" y1="456.43" x2="191.78" y2="456.43" stroke="#000" stroke-width="2.6" stroke-linecap="butt"/>
<line x1="184.58" y1="471.33" x2="191.78" y2="471.33" stroke="#000" stroke-width="2.6" stroke-linecap="butt"/>
<line x1="184.58" y1="562.94" x2="191.78" y2="562.94" stroke="#000" stroke-width="2.6" stroke-linecap="butt"/>
<line x1="207.86" y1="569.92" x2="207.86" y2="457.7" stroke="#000" stroke-width="2.6" stroke-linecap="butt"/>
<line x1="204.26" y1="457.7" x2="211.46" y2="457.7" stroke="#000" stroke-width="2.6" stroke-linecap="butt"/>
<line x1="204.26" y1="569.92" x2="211.46" y2="569.92" stroke="#000" stroke-width="2.6" stroke-linecap="butt"/>
<line x1="227.54" y1="587.67" x2="227.54" y2="460.87" stroke="#000" stroke-width="2.6" stroke-linecap="butt"/>
<line x1="223.94" y1="460.87" x2="231.14" y2="460.87" stroke="#000" stroke-width="2.6" stroke-linecap="butt"/>
<line x1="223.94" y1="503.35" x2="231.14" y2="503.35" stroke="#000" stroke-width="2.6" stroke-linecap="butt"/>
<line x1="223.94" y1="587.67" x2="231.14" y2="587.67" stroke="#000" stroke-width="2.6" stroke-linecap="butt"/>
<line x1="247.22" y1="497.96" x2="247.22" y2="468.79" stroke="#000" stroke-width="2.6" stroke-linecap="butt"/>
<line x1="247.22" y1="611.13" x2="247.22" y2="516.66" stroke="#000" stroke-width="2.6" stroke-linecap="butt"/>
<line x1="243.62" y1="468.79" x2="250.82" y2="468.79" stroke="#000" stroke-width="2.6" stroke-linecap="butt"/>
<line x1="243.62" y1="516.66" x2="250.82" y2="516.66" stroke="#000" stroke-width="2.6" stroke-linecap="butt"/>
<line x1="243.62" y1="611.13" x2="250.82" y2="611.13" stroke="#000" stroke-width="2.6" stroke-linecap="butt"/>
<line x1="266.9" y1="594.01" x2="266.9" y2="491.62" stroke="#000" stroke-width="2.6" stroke-linecap="butt"/>
<line x1="266.9" y1="634.9" x2="266.9" y2="613.03" stroke="#000" stroke-width="2.6" stroke-linecap="butt"/>
<line x1="263.3" y1="491.62" x2="270.5" y2="491.62" stroke="#000" stroke-width="2.6" stroke-linecap="butt"/>
<line x1="263.3" y1="594.01" x2="270.5" y2="594.01" stroke="#000" stroke-width="2.6" stroke-linecap="butt"/>
<line x1="263.3" y1="634.9" x2="270.5" y2="634.9" stroke="#000" stroke-width="2.6" stroke-linecap="butt"/>
<line x1="286.58" y1="529.98" x2="286.58" y2="498.28" stroke="#000" stroke-width="2.6" stroke-linecap="butt"/>
<line x1="286.58" y1="605.1" x2="286.58" y2="544.24" stroke="#000" stroke-width="2.6" stroke-linecap="butt"/>
<line x1="286.58" y1="637.44" x2="286.58" y2="620.95" stroke="#000" stroke-width="2.6" stroke-linecap="butt"/>
<line x1="282.98" y1="498.28" x2="290.18" y2="498.28" stroke="#000" stroke-width="2.6" stroke-linecap="butt"/>
<line x1="282.98" y1="544.24" x2="290.18" y2="544.24" stroke="#000" stroke-width="2.6" stroke-linecap="butt"/>
<line x1="282.98" y1="605.1" x2="290.18" y2="605.1" stroke="#000" stroke-width="2.6" stroke-linecap="butt"/>
<line x1="282.98" y1="637.44" x2="290.18" y2="637.44" stroke="#000" stroke-width="2.6" stroke-linecap="butt"/>
<line x1="306.26" y1="625.71" x2="306.26" y2="571.19" stroke="#000" stroke-width="2.6" stroke-linecap="butt"/>
<line x1="306.26" y1="652.02" x2="306.26" y2="639.66" stroke="#000" stroke-width="2.6" stroke-linecap="butt"/>
<line x1="302.66" y1="571.19" x2="309.86" y2="571.19" stroke="#000" stroke-width="2.6" stroke-linecap="butt"/>
<line x1="302.66" y1="625.71" x2="309.86" y2="625.71" stroke="#000" stroke-width="2.6" stroke-linecap="butt"/>
<line x1="302.66" y1="652.02" x2="309.86" y2="652.02" stroke="#000" stroke-width="2.6" stroke-linecap="butt"/>
<line x1="329.88" y1="664.7" x2="329.88" y2="619.69" stroke="#000" stroke-width="2.6" stroke-linecap="butt"/>
<line x1="326.28" y1="619.69" x2="333.48" y2="619.69" stroke="#000" stroke-width="2.6" stroke-linecap="butt"/>
<line x1="326.28" y1="664.7" x2="333.48" y2="664.7" stroke="#000" stroke-width="2.6" stroke-linecap="butt"/>
<line x1="70.1" y1="600.98" x2="89.78" y2="576.26" stroke="#000" stroke-width="2.5" stroke-dasharray="4 2.8" stroke-dashoffset="0"/>
<line x1="89.78" y1="576.26" x2="109.46" y2="537.27" stroke="#000" stroke-width="2.5" stroke-dasharray="4 2.8" stroke-dashoffset="0"/>
<line x1="109.46" y1="537.27" x2="129.14" y2="522.68" stroke="#000" stroke-width="2.5" stroke-dasharray="4 2.8" stroke-dashoffset="0"/>
<line x1="129.14" y1="522.68" x2="148.82" y2="510.96" stroke="#000" stroke-width="2.5" stroke-dasharray="4 2.8" stroke-dashoffset="0"/>
<line x1="148.82" y1="510.96" x2="168.5" y2="476.72" stroke="#000" stroke-width="2.5" stroke-dasharray="4 2.8" stroke-dashoffset="0"/>
<line x1="168.5" y1="476.72" x2="188.18" y2="482.43" stroke="#000" stroke-width="2.5" stroke-dasharray="4 2.8" stroke-dashoffset="0"/>
<line x1="188.18" y1="482.43" x2="207.86" y2="487.18" stroke="#000" stroke-width="2.5" stroke-dasharray="4 2.8" stroke-dashoffset="0"/>
<line x1="207.86" y1="487.18" x2="227.54" y2="489.72" stroke="#000" stroke-width="2.5" stroke-dasharray="4 2.8" stroke-dashoffset="0"/>
<line x1="227.54" y1="489.72" x2="247.22" y2="497.96" stroke="#000" stroke-width="2.5" stroke-dasharray="4 2.8" stroke-dashoffset="0"/>
<line x1="247.22" y1="497.96" x2="266.9" y2="522.68" stroke="#000" stroke-width="2.5" stroke-dasharray="4 2.8" stroke-dashoffset="0"/>
<line x1="266.9" y1="522.68" x2="286.58" y2="529.98" stroke="#000" stroke-width="2.5" stroke-dasharray="4 2.8" stroke-dashoffset="0"/>
<line x1="286.58" y1="529.98" x2="306.26" y2="593.38" stroke="#000" stroke-width="2.5" stroke-dasharray="4 2.8" stroke-dashoffset="0"/>
<line x1="306.26" y1="593.38" x2="329.88" y2="632.05" stroke="#000" stroke-width="2.5" stroke-dasharray="4 2.8" stroke-dashoffset="0"/>
<line x1="70.1" y1="611.76" x2="89.78" y2="559.77" stroke="#000" stroke-width="2.5" stroke-dasharray="12 6" stroke-dashoffset="0"/>
<line x1="89.78" y1="559.77" x2="109.46" y2="558.51" stroke="#000" stroke-width="2.5" stroke-dasharray="12 6" stroke-dashoffset="0"/>
<line x1="109.46" y1="558.51" x2="129.14" y2="533.15" stroke="#000" stroke-width="2.5" stroke-dasharray="12 6" stroke-dashoffset="0"/>
<line x1="129.14" y1="533.15" x2="148.82" y2="504.3" stroke="#000" stroke-width="2.5" stroke-dasharray="12 6" stroke-dashoffset="0"/>
<line x1="148.82" y1="504.3" x2="168.5" y2="474.18" stroke="#000" stroke-width="2.5" stroke-dasharray="12 6" stroke-dashoffset="0"/>
<line x1="168.5" y1="474.18" x2="188.18" y2="502.4" stroke="#000" stroke-width="2.5" stroke-dasharray="12 6" stroke-dashoffset="0"/>
<line x1="188.18" y1="502.4" x2="207.86" y2="521.73" stroke="#000" stroke-width="2.5" stroke-dasharray="12 6" stroke-dashoffset="0"/>
<line x1="207.86" y1="521.73" x2="227.54" y2="537.27" stroke="#000" stroke-width="2.5" stroke-dasharray="12 6" stroke-dashoffset="0"/>
<line x1="227.54" y1="537.27" x2="247.22" y2="549.95" stroke="#000" stroke-width="2.5" stroke-dasharray="12 6" stroke-dashoffset="0"/>
<line x1="247.22" y1="549.95" x2="266.9" y2="562.63" stroke="#000" stroke-width="2.5" stroke-dasharray="12 6" stroke-dashoffset="0"/>
<line x1="266.9" y1="562.63" x2="286.58" y2="575.31" stroke="#000" stroke-width="2.5" stroke-dasharray="12 6" stroke-dashoffset="0"/>
<line x1="286.58" y1="575.31" x2="306.26" y2="609.23" stroke="#000" stroke-width="2.5" stroke-dasharray="12 6" stroke-dashoffset="0"/>
<line x1="306.26" y1="609.23" x2="329.88" y2="644.73" stroke="#000" stroke-width="2.5" stroke-dasharray="12 6" stroke-dashoffset="0"/>
<polyline points="70.1,622.54 89.78,600.35 109.46,593.38 129.14,581.01 148.82,543.29 168.5,523.32 188.18,529.66 207.86,538.85 227.54,560.41 247.22,586.72 266.9,613.03 286.58,620.95 306.26,639.66 329.88,633.63" fill="none" stroke="#000" stroke-width="2.6" stroke-linejoin="miter"/>
<rect x="67" y="597.88" width="6.2" height="6.2" fill="#fff" stroke="#000" stroke-width="1.8"/>
<rect x="86.68" y="573.16" width="6.2" height="6.2" fill="#fff" stroke="#000" stroke-width="1.8"/>
<rect x="106.36" y="534.17" width="6.2" height="6.2" fill="#fff" stroke="#000" stroke-width="1.8"/>
<rect x="126.04" y="519.58" width="6.2" height="6.2" fill="#fff" stroke="#000" stroke-width="1.8"/>
<rect x="145.72" y="507.86" width="6.2" height="6.2" fill="#fff" stroke="#000" stroke-width="1.8"/>
<rect x="165.4" y="473.62" width="6.2" height="6.2" fill="#fff" stroke="#000" stroke-width="1.8"/>
<rect x="185.08" y="479.33" width="6.2" height="6.2" fill="#fff" stroke="#000" stroke-width="1.8"/>
<rect x="204.76" y="484.08" width="6.2" height="6.2" fill="#fff" stroke="#000" stroke-width="1.8"/>
<rect x="224.44" y="486.62" width="6.2" height="6.2" fill="#fff" stroke="#000" stroke-width="1.8"/>
<rect x="244.12" y="494.86" width="6.2" height="6.2" fill="#fff" stroke="#000" stroke-width="1.8"/>
<rect x="263.8" y="519.58" width="6.2" height="6.2" fill="#fff" stroke="#000" stroke-width="1.8"/>
<rect x="283.48" y="526.88" width="6.2" height="6.2" fill="#fff" stroke="#000" stroke-width="1.8"/>
<rect x="303.16" y="590.28" width="6.2" height="6.2" fill="#fff" stroke="#000" stroke-width="1.8"/>
<rect x="326.78" y="628.95" width="6.2" height="6.2" fill="#fff" stroke="#000" stroke-width="1.8"/>
<rect x="67" y="608.66" width="6.2" height="6.2" fill="#fff" stroke="#000" stroke-width="1.8"/>
<path d="M66.1,615.76 L74.1,607.76 L74.1,615.76 Z" fill="#000"/>
<rect x="86.68" y="556.67" width="6.2" height="6.2" fill="#fff" stroke="#000" stroke-width="1.8"/>
<path d="M85.78,563.77 L93.78,555.77 L93.78,563.77 Z" fill="#000"/>
<rect x="106.36" y="555.41" width="6.2" height="6.2" fill="#fff" stroke="#000" stroke-width="1.8"/>
<path d="M105.46,562.51 L113.46,554.51 L113.46,562.51 Z" fill="#000"/>
<rect x="126.04" y="530.05" width="6.2" height="6.2" fill="#fff" stroke="#000" stroke-width="1.8"/>
<path d="M125.14,537.15 L133.14,529.15 L133.14,537.15 Z" fill="#000"/>
<rect x="145.72" y="501.2" width="6.2" height="6.2" fill="#fff" stroke="#000" stroke-width="1.8"/>
<path d="M144.82,508.3 L152.82,500.3 L152.82,508.3 Z" fill="#000"/>
<rect x="165.4" y="471.08" width="6.2" height="6.2" fill="#fff" stroke="#000" stroke-width="1.8"/>
<path d="M164.5,478.18 L172.5,470.18 L172.5,478.18 Z" fill="#000"/>
<rect x="185.08" y="499.3" width="6.2" height="6.2" fill="#fff" stroke="#000" stroke-width="1.8"/>
<path d="M184.18,506.4 L192.18,498.4 L192.18,506.4 Z" fill="#000"/>
<rect x="204.76" y="518.63" width="6.2" height="6.2" fill="#fff" stroke="#000" stroke-width="1.8"/>
<path d="M203.86,525.73 L211.86,517.73 L211.86,525.73 Z" fill="#000"/>
<rect x="224.44" y="534.17" width="6.2" height="6.2" fill="#fff" stroke="#000" stroke-width="1.8"/>
<path d="M223.54,541.27 L231.54,533.27 L231.54,541.27 Z" fill="#000"/>
<rect x="244.12" y="546.85" width="6.2" height="6.2" fill="#fff" stroke="#000" stroke-width="1.8"/>
<path d="M243.22,553.95 L251.22,545.95 L251.22,553.95 Z" fill="#000"/>
<rect x="263.8" y="559.53" width="6.2" height="6.2" fill="#fff" stroke="#000" stroke-width="1.8"/>
<path d="M262.9,566.63 L270.9,558.63 L270.9,566.63 Z" fill="#000"/>
<rect x="283.48" y="572.21" width="6.2" height="6.2" fill="#fff" stroke="#000" stroke-width="1.8"/>
<path d="M282.58,579.31 L290.58,571.31 L290.58,579.31 Z" fill="#000"/>
<rect x="303.16" y="606.13" width="6.2" height="6.2" fill="#fff" stroke="#000" stroke-width="1.8"/>
<path d="M302.26,613.23 L310.26,605.23 L310.26,613.23 Z" fill="#000"/>
<rect x="326.78" y="641.63" width="6.2" height="6.2" fill="#fff" stroke="#000" stroke-width="1.8"/>
<path d="M325.88,648.73 L333.88,640.73 L333.88,648.73 Z" fill="#000"/>
<rect x="66.1" y="618.54" width="8" height="8" fill="#000"/>
<rect x="85.78" y="596.35" width="8" height="8" fill="#000"/>
<rect x="105.46" y="589.38" width="8" height="8" fill="#000"/>
<rect x="125.14" y="577.01" width="8" height="8" fill="#000"/>
<rect x="144.82" y="539.29" width="8" height="8" fill="#000"/>
<rect x="164.5" y="519.32" width="8" height="8" fill="#000"/>
<rect x="184.18" y="525.66" width="8" height="8" fill="#000"/>
<rect x="203.86" y="534.85" width="8" height="8" fill="#000"/>
<rect x="223.54" y="556.41" width="8" height="8" fill="#000"/>
<rect x="243.22" y="582.72" width="8" height="8" fill="#000"/>
<rect x="262.9" y="609.03" width="8" height="8" fill="#000"/>
<rect x="282.58" y="616.95" width="8" height="8" fill="#000"/>
<rect x="302.26" y="635.66" width="8" height="8" fill="#000"/>
<rect x="325.88" y="629.63" width="8" height="8" fill="#000"/>
<rect x="325.88" y="653.09" width="8" height="8" fill="#000"/>
<rect x="326.78" y="629.9" width="6.2" height="6.2" fill="#fff" stroke="#000" stroke-width="1.8"/>
<path d="M325.88,637 L333.88,629 L333.88,637 Z" fill="#000"/>
<polygon points="247.7,445.9 248.64,448.01 250.93,448.25 249.22,449.79 249.7,452.05 247.7,450.9 245.7,452.05 246.18,449.79 244.47,448.25 246.76,448.01" fill="#000" stroke="#000" stroke-width="1" stroke-linejoin="round"/>
<polygon points="268.4,468.9 269.34,471.01 271.63,471.25 269.92,472.79 270.4,475.05 268.4,473.9 266.4,475.05 266.88,472.79 265.17,471.25 267.46,471.01" fill="#000" stroke="#000" stroke-width="1" stroke-linejoin="round"/>
<polygon points="289.9,475.8 290.84,477.91 293.13,478.15 291.42,479.69 291.9,481.95 289.9,480.8 287.9,481.95 288.38,479.69 286.67,478.15 288.96,477.91" fill="#000" stroke="#000" stroke-width="1" stroke-linejoin="round"/>
<line x1="212.3" y1="405.2" x2="252.7" y2="405.2" stroke="#000" stroke-width="2.6" stroke-linecap="butt"/>
<rect x="230.6" y="402" width="6.4" height="6.4" fill="#000"/>
<line x1="221.5" y1="416.4" x2="227.4" y2="416.4" stroke="#000" stroke-width="2.6" stroke-linecap="butt"/>
<line x1="239.7" y1="416.4" x2="250.7" y2="416.4" stroke="#000" stroke-width="2.6" stroke-linecap="butt"/>
<rect x="231.5" y="414.1" width="4.6" height="4.6" fill="#fff" stroke="#000" stroke-width="1.8"/>
<path d="M230.6,419.6 L237,413.2 L237,419.6 Z" fill="#000"/>
<line x1="212.3" y1="427.7" x2="216.5" y2="427.7" stroke="#000" stroke-width="2.4" stroke-linecap="butt"/>
<line x1="219.5" y1="427.7" x2="224.5" y2="427.7" stroke="#000" stroke-width="2.4" stroke-linecap="butt"/>
<line x1="239.5" y1="427.7" x2="244" y2="427.7" stroke="#000" stroke-width="2.4" stroke-linecap="butt"/>
<line x1="247" y1="427.7" x2="252" y2="427.7" stroke="#000" stroke-width="2.4" stroke-linecap="butt"/>
<rect x="231.5" y="425.4" width="4.6" height="4.6" fill="#fff" stroke="#000" stroke-width="1.8"/>
<text x="256.4" y="408.4" font-size="12" text-anchor="start" letter-spacing="0.55">Wildtype</text>
<text x="256.4" y="419.6" font-size="12" text-anchor="start" letter-spacing="0.55">Heterozygous</text>
<text x="256.4" y="430.9" font-size="12" text-anchor="start" letter-spacing="0.55">Knockout</text>
<line x1="460" y1="391.7" x2="460" y2="680.3" stroke="#000" stroke-width="1.5" stroke-linecap="butt"/>
<line x1="459.2" y1="680.3" x2="747.4" y2="680.3" stroke="#000" stroke-width="1.5" stroke-linecap="butt"/>
<line x1="453" y1="392.54" x2="460" y2="392.54" stroke="#000" stroke-width="1.5" stroke-linecap="butt"/>
<text x="445.2" y="397.84" font-size="12.5" text-anchor="end" >1.2</text>
<line x1="453" y1="440.5" x2="460" y2="440.5" stroke="#000" stroke-width="1.5" stroke-linecap="butt"/>
<text x="445.2" y="445.8" font-size="12.5" text-anchor="end" >1</text>
<line x1="453" y1="488.46" x2="460" y2="488.46" stroke="#000" stroke-width="1.5" stroke-linecap="butt"/>
<text x="445.2" y="493.76" font-size="12.5" text-anchor="end" >0.8</text>
<line x1="453" y1="536.42" x2="460" y2="536.42" stroke="#000" stroke-width="1.5" stroke-linecap="butt"/>
<text x="445.2" y="541.72" font-size="12.5" text-anchor="end" >0.6</text>
<line x1="453" y1="584.38" x2="460" y2="584.38" stroke="#000" stroke-width="1.5" stroke-linecap="butt"/>
<text x="445.2" y="589.68" font-size="12.5" text-anchor="end" >0.4</text>
<line x1="453" y1="632.34" x2="460" y2="632.34" stroke="#000" stroke-width="1.5" stroke-linecap="butt"/>
<text x="445.2" y="637.64" font-size="12.5" text-anchor="end" >0.2</text>
<line x1="453" y1="680.3" x2="460" y2="680.3" stroke="#000" stroke-width="1.5" stroke-linecap="butt"/>
<text x="445.2" y="685.6" font-size="12.5" text-anchor="end" >0</text>
<line x1="460" y1="680.3" x2="460" y2="687.6" stroke="#000" stroke-width="1.5" stroke-linecap="butt"/>
<line x1="603.8" y1="680.3" x2="603.8" y2="687.6" stroke="#000" stroke-width="1.5" stroke-linecap="butt"/>
<line x1="746.6" y1="680.3" x2="746.6" y2="687.6" stroke="#000" stroke-width="1.5" stroke-linecap="butt"/>
<rect x="474.5" y="440.5" width="115" height="239.8" fill="#000"/>
<rect x="619.2" y="481.03" width="113" height="199.27" fill="#fff" stroke="#000" stroke-width="1.6"/>
<line x1="531.3" y1="440.5" x2="531.3" y2="428.75" stroke="#000" stroke-width="2.6" stroke-linecap="butt"/>
<line x1="527.6" y1="428.75" x2="535" y2="428.75" stroke="#000" stroke-width="2.6" stroke-linecap="butt"/>
<line x1="675" y1="481.03" x2="675" y2="466.64" stroke="#000" stroke-width="2.6" stroke-linecap="butt"/>
<line x1="671.3" y1="466.64" x2="678.7" y2="466.64" stroke="#000" stroke-width="2.6" stroke-linecap="butt"/>
<text x="674.5" y="456.6" font-size="22" text-anchor="middle" >*</text>
<text x="531.8" y="705.4" font-size="13.3" text-anchor="middle" >WT/Het</text>
<text x="675.3" y="705.4" font-size="13.3" text-anchor="middle" >KO</text>
<text transform="translate(410.7,539) rotate(-90)" x="0" y="0" font-size="16.4" text-anchor="middle">Tyrosine Hydroxylase</text>
<text x="399.5" y="393.1" font-size="16" text-anchor="start" transform="translate(399.5,393.1) scale(1.2,1) translate(-399.5,-393.1)">D</text>
</svg>
</body></html>
